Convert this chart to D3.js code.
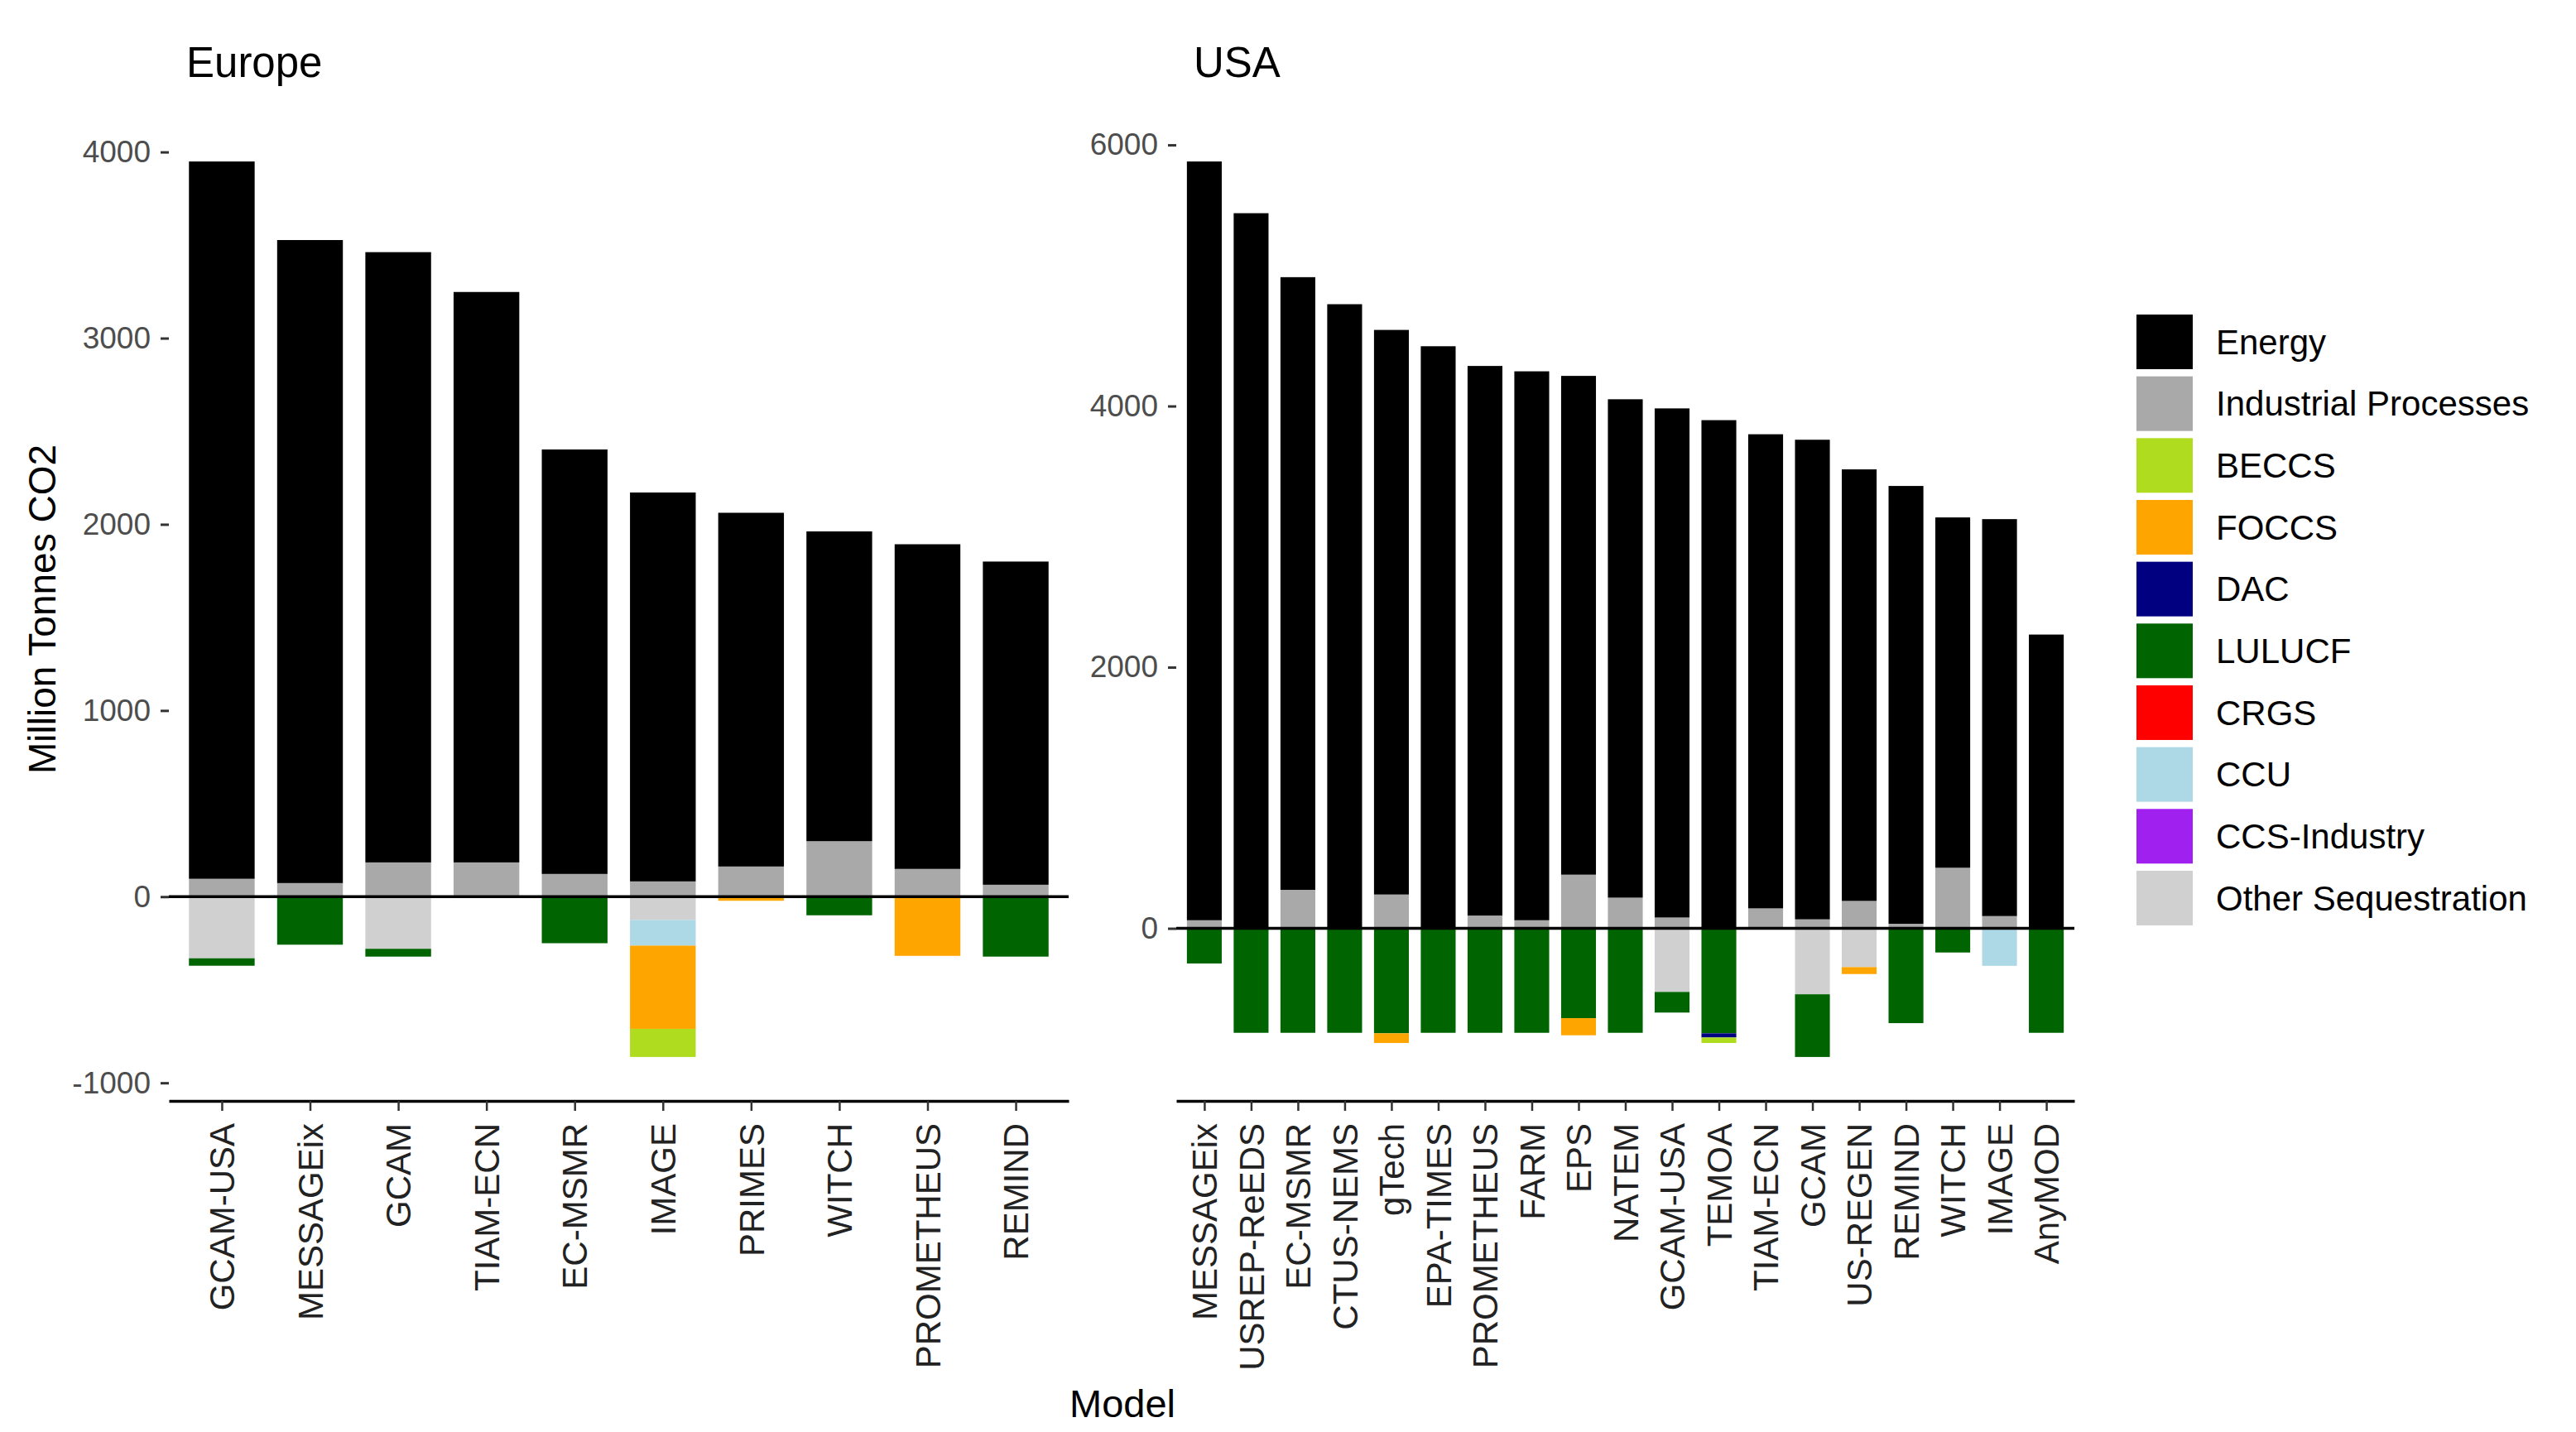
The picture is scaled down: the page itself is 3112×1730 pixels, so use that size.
<!DOCTYPE html>
<html>
<head>
<meta charset="utf-8">
<script src="https://cdn.jsdelivr.net/npm/d3@7"></script>
<style>
  html, body { margin: 0; padding: 0; background: #ffffff; }
  svg { display: block; font-family: "Liberation Sans", Arial, Helvetica, sans-serif; }
</style>
</head>
<body>
<svg id="chart" width="3112" height="1730"></svg>
<script>
// ---------------- DATA ----------------
const categories = ["Energy", "Industrial Processes", "BECCS", "FOCCS", "DAC", "LULUCF", "CRGS", "CCU", "CCS-Industry", "Other Sequestration"];
const categoryColors = ["#000000", "#a9a9a9", "#b0dc20", "#ffa500", "#000080", "#006400", "#ff0000", "#add8e6", "#a020f0", "#d0d0d0"];

const euModels = ["GCAM-USA", "MESSAGEix", "GCAM", "TIAM-ECN", "EC-MSMR", "IMAGE", "PRIMES", "WITCH", "PROMETHEUS", "REMIND"];
const euEnergy     = [3853, 3454, 3278, 3064, 2280, 2089, 1900, 1664, 1744, 1736];
const euIndustrial = [96, 73, 184, 184, 122, 82, 162, 298, 149, 64];
const euBECCS      = [0, 0, 0, 0, 0, -151, 0, 0, 0, 0];
const euFOCCS      = [0, 0, 0, 0, 0, -447, -22, 0, -318, 0];
const euDAC        = [0, 0, 0, 0, 0, 0, 0, 0, 0, 0];
const euLULUCF     = [-40, -258, -42, 0, -250, 0, 0, -100, 0, -322];
const euCRGS       = [0, 0, 0, 0, 0, 0, 0, 0, 0, 0];
const euCCU        = [0, 0, 0, 0, 0, -138, 0, 0, 0, 0];
const euCCSInd     = [0, 0, 0, 0, 0, 0, 0, 0, 0, 0];
const euOtherSeq   = [-331, 0, -280, 0, 0, -125, 0, 0, 0, 0];

const usModels = ["MESSAGEix", "USREP-ReEDS", "EC-MSMR", "CTUS-NEMS", "gTech", "EPA-TIMES", "PROMETHEUS", "FARM", "EPS", "NATEM", "GCAM-USA", "TEMOA", "TIAM-ECN", "GCAM", "US-REGEN", "REMIND", "WITCH", "IMAGE", "AnyMOD"];
const usEnergy     = [5811, 5477, 4692, 4780, 4324, 4458, 4209, 4204, 3820, 3817, 3899, 3892, 3631, 3673, 3305, 3353, 2683, 3040, 2250];
const usIndustrial = [62, 0, 295, 0, 259, 0, 98, 62, 411, 235, 83, 0, 153, 69, 210, 35, 464, 94, 0];
const usBECCS      = [0, 0, 0, 0, 0, 0, 0, 0, 0, 0, 0, -42, 0, 0, 0, 0, 0, 0, 0];
const usFOCCS      = [0, 0, 0, 0, -74, 0, 0, 0, -131, 0, 0, 0, 0, 0, -53, 0, 0, 0, 0];
const usDAC        = [0, 0, 0, 0, 0, 0, 0, 0, 0, 0, 0, -32, 0, 0, 0, 0, 0, 0, 0];
const usLULUCF     = [-269, -800, -800, -800, -804, -800, -800, -800, -688, -800, -158, -804, 0, -480, 0, -726, -185, 0, -800];
const usCRGS       = [0, 0, 0, 0, 0, 0, 0, 0, 0, 0, 0, 0, 0, 0, 0, 0, 0, 0, 0];
const usCCU        = [0, 0, 0, 0, 0, 0, 0, 0, 0, 0, 0, 0, 0, 0, 0, 0, 0, -287, 0];
const usCCSInd     = [0, 0, 0, 0, 0, 0, 0, 0, 0, 0, 0, 0, 0, 0, 0, 0, 0, 0, 0];
const usOtherSeq   = [0, 0, 0, 0, 0, 0, 0, 0, 0, 0, -487, 0, 0, -505, -297, 0, 0, 0, 0];

const euTicks = [-1000, 0, 1000, 2000, 3000, 4000];
const euTickLabels = ["-1000", "0", "1000", "2000", "3000", "4000"];
const usTicks = [0, 2000, 4000, 6000];
const usTickLabels = ["0", "2000", "4000", "6000"];

const panelTitles = ["Europe", "USA"];
const yTitle = "Million Tonnes CO2";
const xTitle = "Model";

// ---------------- LAYOUT ----------------
const svg = d3.select("#chart");
svg.append("rect").attr("width", 3112).attr("height", 1730).attr("fill", "#ffffff");

const panelTop = 141, panelBottom = 1331;
const panels = [
  { title: panelTitles[0], models: euModels, left: 204, right: 1291, ticks: euTicks, labels: euTickLabels,
    series: [euEnergy, euIndustrial, euBECCS, euFOCCS, euDAC, euLULUCF, euCRGS, euCCU, euCCSInd, euOtherSeq] },
  { title: panelTitles[1], models: usModels, left: 1421, right: 2506, ticks: usTicks, labels: usTickLabels,
    series: [usEnergy, usIndustrial, usBECCS, usFOCCS, usDAC, usLULUCF, usCRGS, usCCU, usCCSInd, usOtherSeq] }
];

const color = d3.scaleOrdinal().domain(categories).range(categoryColors);

panels.forEach(p => {
  // build stacked segments (ggplot-like: last level nearest zero)
  const segs = [];
  let minV = 0, maxV = 0;
  p.models.forEach((m, i) => {
    let pos = 0, neg = 0;
    for (let c = categories.length - 1; c >= 0; c--) {
      const v = p.series[c][i];
      if (v > 0) { segs.push({ model: m, cat: categories[c], y0: pos, y1: pos + v }); pos += v; }
      else if (v < 0) { segs.push({ model: m, cat: categories[c], y0: neg, y1: neg + v }); neg += v; }
    }
    maxV = Math.max(maxV, pos); minV = Math.min(minV, neg);
  });
  const pad = (maxV - minV) * 0.05;
  const y = d3.scaleLinear().domain([minV - pad, maxV + pad]).range([panelBottom, panelTop]);
  const x = d3.scalePoint().domain(p.models).range([p.left, p.right]).padding(0.6);
  const bw = x.step() * 0.745;

  const g = svg.append("g");

  g.selectAll("rect.seg").data(segs).enter().append("rect")
    .attr("class", "seg")
    .attr("x", d => x(d.model) - bw / 2)
    .attr("width", bw)
    .attr("y", d => Math.min(y(d.y0), y(d.y1)))
    .attr("height", d => Math.abs(y(d.y0) - y(d.y1)))
    .attr("fill", d => color(d.cat));

  // zero line
  g.append("line")
    .attr("x1", p.left).attr("x2", p.right)
    .attr("y1", y(0)).attr("y2", y(0))
    .attr("stroke", "#000").attr("stroke-width", 3.5);

  // y axis (no axis line)
  const yAxis = g.append("g").attr("transform", `translate(${p.left},0)`)
    .call(d3.axisLeft(y).tickValues(p.ticks).tickFormat((d, i) => p.labels[i]).tickSize(10).tickPadding(12));
  yAxis.select(".domain").remove();
  yAxis.selectAll(".tick line").attr("stroke", "#333").attr("stroke-width", 3);
  yAxis.selectAll(".tick text").attr("font-size", 37).attr("fill", "#4d4d4d")
    .attr("font-family", "'Liberation Sans', Arial, sans-serif");

  // x axis
  const xAxis = g.append("g").attr("transform", `translate(0,${panelBottom - 1})`)
    .call(d3.axisBottom(x).tickSize(12).tickSizeOuter(0));
  xAxis.select(".domain").attr("stroke", "#000").attr("stroke-width", 3.5);
  xAxis.selectAll(".tick line").attr("stroke", "#333").attr("stroke-width", 2.5);
  xAxis.selectAll(".tick text")
    .attr("font-size", 42).attr("fill", "#222")
    .attr("font-family", "'Liberation Sans', Arial, sans-serif")
    .attr("transform", "rotate(-90)")
    .attr("x", -27).attr("y", 0).attr("dy", "0.35em")
    .attr("text-anchor", "end");

  // panel title
  g.append("text").attr("x", p.left + 21).attr("y", 93)
    .attr("font-size", 51).attr("fill", "#000").text(p.title);
});

// axis titles
svg.append("text")
  .attr("transform", "translate(67,736) rotate(-90)")
  .attr("text-anchor", "middle").attr("font-size", 46).attr("fill", "#000")
  .text(yTitle);
svg.append("text")
  .attr("x", 1356).attr("y", 1712)
  .attr("text-anchor", "middle").attr("font-size", 47).attr("fill", "#000")
  .text(xTitle);

// legend
const legend = svg.append("g").attr("transform", "translate(2581,380)");
const lg = legend.selectAll("g").data(categories).enter().append("g")
  .attr("transform", (d, i) => `translate(0,${i * 74.66})`);
lg.append("rect").attr("width", 68).attr("height", 66).attr("fill", d => color(d));
lg.append("text").attr("x", 96).attr("y", 33).attr("dy", "0.35em")
  .attr("font-size", 42).attr("fill", "#000").text(d => d);
</script>
</body>
</html>
